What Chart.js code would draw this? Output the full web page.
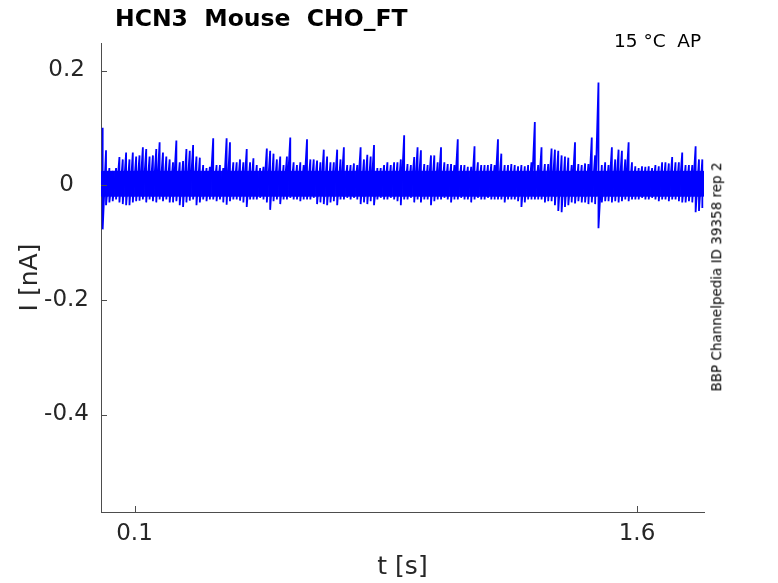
<!DOCTYPE html>
<html>
<head>
<meta charset="utf-8">
<script src="https://cdn.jsdelivr.net/npm/chart.js@4.4.0/dist/chart.umd.min.js"></script>
<style>
  html, body { margin: 0; padding: 0; background: #fff; }
  #wrap { position: relative; width: 778px; height: 583px; overflow: hidden; font-family: 'DejaVu Sans', sans-serif; }
  #wrap canvas { position: absolute; left: 0; top: 0; }
  .txt { position: absolute; white-space: nowrap; line-height: 1; color: #000; }
  #title { left: 115px; top: 7px; font-size: 23.5px; font-weight: bold; }
  #cond { left: 614px; top: 32px; font-size: 18.5px; }
  #src { left: 717px; top: 277px; font-size: 13.5px; transform: translate(-50%, -50%) rotate(-90deg); }
</style>
</head>
<body>
<div id="wrap">
  <canvas id="trace" width="778" height="583"></canvas>
  <div class="txt" id="title">HCN3&nbsp;&nbsp;Mouse&nbsp;&nbsp;CHO_FT</div>
  <div class="txt" id="cond">15 °C&nbsp;&nbsp;AP</div>
  <div class="txt" id="src">BBP Channelpedia ID 39358 rep 2</div>
</div>
<script>
const xTicks = [0.1, 1.6];
const yTicks = [-0.4, -0.2, 0, 0.2];

// bin centres [s], 10 ms bins
const t = [
  0.005, 0.015, 0.025, 0.035, 0.045, 0.055, 0.065, 0.075, 0.085, 0.095,
  0.105, 0.115, 0.125, 0.135, 0.145, 0.155, 0.165, 0.175, 0.185, 0.195,
  0.205, 0.215, 0.225, 0.235, 0.245, 0.255, 0.265, 0.275, 0.285, 0.295,
  0.305, 0.315, 0.325, 0.335, 0.345, 0.355, 0.365, 0.375, 0.385, 0.395,
  0.405, 0.415, 0.425, 0.435, 0.445, 0.455, 0.465, 0.475, 0.485, 0.495,
  0.505, 0.515, 0.525, 0.535, 0.545, 0.555, 0.565, 0.575, 0.585, 0.595,
  0.605, 0.615, 0.625, 0.635, 0.645, 0.655, 0.665, 0.675, 0.685, 0.695,
  0.705, 0.715, 0.725, 0.735, 0.745, 0.755, 0.765, 0.775, 0.785, 0.795,
  0.805, 0.815, 0.825, 0.835, 0.845, 0.855, 0.865, 0.875, 0.885, 0.895,
  0.905, 0.915, 0.925, 0.935, 0.945, 0.955, 0.965, 0.975, 0.985, 0.995,
  1.005, 1.015, 1.025, 1.035, 1.045, 1.055, 1.065, 1.075, 1.085, 1.095,
  1.105, 1.115, 1.125, 1.135, 1.145, 1.155, 1.165, 1.175, 1.185, 1.195,
  1.205, 1.215, 1.225, 1.235, 1.245, 1.255, 1.265, 1.275, 1.285, 1.295,
  1.305, 1.315, 1.325, 1.335, 1.345, 1.355, 1.365, 1.375, 1.385, 1.395,
  1.405, 1.415, 1.425, 1.435, 1.445, 1.455, 1.465, 1.475, 1.485, 1.495,
  1.505, 1.515, 1.525, 1.535, 1.545, 1.555, 1.565, 1.575, 1.585, 1.595,
  1.605, 1.615, 1.625, 1.635, 1.645, 1.655, 1.665, 1.675, 1.685, 1.695,
  1.705, 1.715, 1.725, 1.735, 1.745, 1.755, 1.765, 1.775, 1.785, 1.795
];

// max current in each bin [nA]
const hi = [
  0.100, 0.061, 0.030, 0.025, 0.030, 0.049, 0.045, 0.057, 0.045, 0.057,
  0.050, 0.052, 0.066, 0.063, 0.050, 0.052, 0.063, 0.075, 0.057, 0.050,
  0.045, 0.040, 0.078, 0.040, 0.042, 0.063, 0.060, 0.070, 0.050, 0.048,
  0.035, 0.030, 0.032, 0.082, 0.035, 0.035, 0.030, 0.082, 0.075, 0.040,
  0.040, 0.045, 0.040, 0.063, 0.040, 0.047, 0.035, 0.030, 0.032, 0.064,
  0.060, 0.055, 0.045, 0.050, 0.035, 0.050, 0.083, 0.040, 0.035, 0.040,
  0.035, 0.080, 0.045, 0.045, 0.043, 0.040, 0.062, 0.050, 0.040, 0.040,
  0.062, 0.045, 0.066, 0.035, 0.035, 0.038, 0.035, 0.066, 0.045, 0.053,
  0.050, 0.070, 0.030, 0.030, 0.035, 0.040, 0.035, 0.040, 0.040, 0.045,
  0.087, 0.037, 0.035, 0.049, 0.066, 0.061, 0.037, 0.035, 0.052, 0.052,
  0.040, 0.066, 0.040, 0.037, 0.037, 0.035, 0.080, 0.035, 0.035, 0.032,
  0.032, 0.068, 0.040, 0.035, 0.035, 0.035, 0.037, 0.035, 0.080, 0.055,
  0.035, 0.035, 0.037, 0.035, 0.033, 0.035, 0.033, 0.035, 0.040, 0.110,
  0.035, 0.066, 0.037, 0.037, 0.064, 0.062, 0.060, 0.052, 0.050, 0.048,
  0.035, 0.075, 0.037, 0.035, 0.038, 0.037, 0.083, 0.052, 0.179, 0.035,
  0.040, 0.035, 0.066, 0.045, 0.062, 0.060, 0.045, 0.075, 0.040, 0.033,
  0.030, 0.033, 0.032, 0.033, 0.030, 0.035, 0.033, 0.040, 0.040, 0.038,
  0.049, 0.040, 0.040, 0.057, 0.035, 0.035, 0.035, 0.068, 0.045, 0.045
];

// min current in each bin [nA]
const lo = [
  -0.077, -0.035, -0.030, -0.028, -0.025, -0.030, -0.033, -0.035, -0.035, -0.030,
  -0.028, -0.027, -0.025, -0.030, -0.025, -0.028, -0.030, -0.025, -0.028, -0.025,
  -0.030, -0.030, -0.028, -0.035, -0.038, -0.030, -0.027, -0.025, -0.035, -0.030,
  -0.025, -0.028, -0.025, -0.025, -0.028, -0.025, -0.030, -0.034, -0.028, -0.025,
  -0.025, -0.027, -0.030, -0.038, -0.025, -0.025, -0.025, -0.022, -0.025, -0.030,
  -0.043, -0.028, -0.025, -0.033, -0.025, -0.025, -0.022, -0.025, -0.025, -0.028,
  -0.025, -0.025, -0.025, -0.022, -0.033, -0.030, -0.033, -0.035, -0.030, -0.028,
  -0.035, -0.025, -0.025, -0.022, -0.025, -0.022, -0.025, -0.033, -0.030, -0.033,
  -0.028, -0.035, -0.025, -0.022, -0.025, -0.025, -0.022, -0.025, -0.028, -0.035,
  -0.025, -0.025, -0.022, -0.030, -0.025, -0.030, -0.025, -0.025, -0.035, -0.028,
  -0.025, -0.025, -0.022, -0.025, -0.030, -0.025, -0.025, -0.022, -0.025, -0.025,
  -0.030, -0.025, -0.022, -0.025, -0.025, -0.022, -0.025, -0.025, -0.025, -0.025,
  -0.030, -0.025, -0.025, -0.025, -0.028, -0.038, -0.030, -0.025, -0.025, -0.025,
  -0.025, -0.025, -0.030, -0.028, -0.028, -0.035, -0.045, -0.047, -0.038, -0.035,
  -0.030, -0.032, -0.028, -0.030, -0.030, -0.033, -0.030, -0.033, -0.075, -0.030,
  -0.028, -0.028, -0.030, -0.028, -0.030, -0.028, -0.025, -0.028, -0.025, -0.025,
  -0.025, -0.022, -0.025, -0.025, -0.022, -0.025, -0.028, -0.025, -0.025, -0.028,
  -0.025, -0.025, -0.028, -0.030, -0.030, -0.028, -0.030, -0.047, -0.045, -0.040
];

// dense noise band that stays solid across the whole sweep [nA]
const coreHi = 0.025;
const coreLo = -0.020;

const axisColor = '#4d4d4d';
const labelColor = '#262626';
const traceColor = '#0000ff';

// MATLAB style: short tick marks pointing into the axes
const inwardTicks = {
  id: 'inwardTicks',
  afterDraw(chart) {
    const { ctx, chartArea: a, scales: { x, y } } = chart;
    ctx.save();
    ctx.strokeStyle = axisColor;
    ctx.lineWidth = 1;
    ctx.beginPath();
    xTicks.forEach(v => {
      const px = Math.round(x.getPixelForValue(v)) + 0.5;
      ctx.moveTo(px, a.bottom);
      ctx.lineTo(px, a.bottom - 6);
    });
    yTicks.forEach(v => {
      const py = Math.round(y.getPixelForValue(v)) + 0.5;
      ctx.moveTo(a.left, py);
      ctx.lineTo(a.left + 6, py);
    });
    ctx.stroke();
    ctx.restore();
  }
};

// trace: for each bin go from its max down to its min, then on to the next bin
const tracePoints = t.flatMap((v, i) => [{ x: v, y: hi[i] }, { x: v, y: lo[i] }]);

const ctx = document.getElementById('trace').getContext('2d');

new Chart(ctx, {
  type: 'bar',
  data: {
    datasets: [
      {
        type: 'line',
        data: tracePoints,
        borderColor: traceColor,
        borderWidth: 1.8,
        pointRadius: 0,
        tension: 0,
        fill: false,
      },
      {
        data: t.map(v => ({ x: v, y: [coreLo, coreHi] })),
        backgroundColor: traceColor,
        borderWidth: 0,
        barPercentage: 1.2,
        categoryPercentage: 1,
        grouped: false,
      },
    ],
  },
  options: {
    responsive: false,
    animation: false,
    layout: { padding: { left: 0, right: 74, top: 43, bottom: 0 } },
    plugins: {
      legend: { display: false },
      tooltip: { enabled: false },
    },
    scales: {
      x: {
        type: 'linear',
        min: 0,
        max: 1.8,
        offset: false,
        afterBuildTicks: s => { s.ticks = xTicks.map(v => ({ value: v })); },
        afterFit: s => { s.height = 71; },
        grid: { display: true, offset: false, drawOnChartArea: false, drawTicks: false },
        border: { display: true, color: axisColor, width: 1 },
        ticks: {
          color: labelColor,
          font: { family: 'DejaVu Sans', size: 23 },
          padding: 8,
          maxRotation: 0,
          autoSkip: false,
          callback: v => String(v),
        },
        title: {
          display: true,
          text: 't [s]',
          color: labelColor,
          font: { family: 'DejaVu Sans', size: 25 },
          padding: { top: 0, bottom: 1 },
        },
      },
      y: {
        min: -0.57,
        max: 0.248,
        afterBuildTicks: s => { s.ticks = yTicks.map(v => ({ value: v })); },
        afterFit: s => { s.width = 101; },
        grid: { display: true, drawOnChartArea: false, drawTicks: false },
        border: { display: true, color: axisColor, width: 1 },
        ticks: {
          color: labelColor,
          font: { family: 'DejaVu Sans', size: 23 },
          padding: 12,
          crossAlign: 'center',
          callback: v => String(v),
        },
        title: {
          display: true,
          text: 'I [nA]',
          color: labelColor,
          font: { family: 'DejaVu Sans', size: 25 },
          padding: { top: 15, bottom: 0 },
        },
      },
    },
  },
  plugins: [inwardTicks],
});
</script>
</body>
</html>
